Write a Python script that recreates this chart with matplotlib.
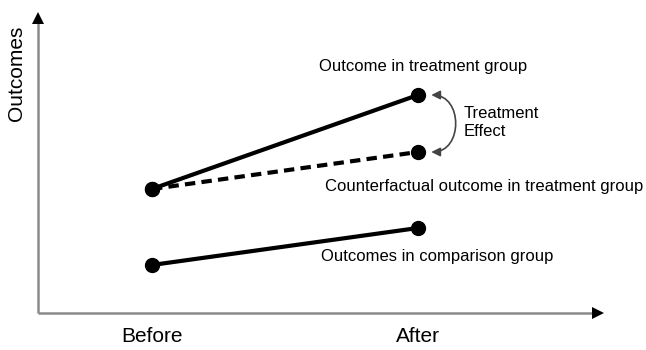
import matplotlib

matplotlib.use("Agg")

import matplotlib.pyplot as plt
from matplotlib.patches import FancyArrowPatch
from matplotlib.path import Path

# period positions and labels
periods = ["Before", "After"]
period_x = [0, 1]

# outcome values (arbitrary units)
treatment = [6.2, 10.9]
counterfactual = [6.2, 8.05]
comparison = [2.4, 4.25]

plt.rcParams["font.family"] = ["Liberation Sans", "DejaVu Sans"]

fig = plt.figure(figsize=(6.46, 3.5), dpi=100)
ax = fig.add_axes([0, 0, 1, 1])
ax.set_xlim(-0.571, 1.857)
ax.set_ylim(-1.85, 15.65)
ax.axis("off")

# axes: gray shafts with black arrowheads
x0, y0 = -0.4286, 0.0
ax.plot([x0, 1.66], [y0, y0], color="#8a8a8a", lw=1.8, solid_capstyle="butt")
ax.plot([x0, x0], [y0, 14.6], color="#8a8a8a", lw=1.8, solid_capstyle="butt")
ax.plot([1.675], [y0], marker=">", color="black", markersize=8, markeredgewidth=0)
ax.plot([x0], [14.75], marker="^", color="black", markersize=8, markeredgewidth=0)

ax.plot(period_x, treatment, color="black", lw=3, marker="o", markersize=10, zorder=3)
ax.plot(period_x, counterfactual, color="black", lw=3, ls=(0, (2.5, 1.5)),
        marker="o", markersize=10, zorder=3)
ax.plot(period_x, comparison, color="black", lw=3, marker="o", markersize=10, zorder=3)

# treatment effect double arrow (curved)
ex, bulge = 1.05, 1.17
effect_path = Path([(ex, counterfactual[1]), (bulge, counterfactual[1]),
                    (bulge, treatment[1]), (ex, treatment[1])],
                   [Path.MOVETO, Path.CURVE4, Path.CURVE4, Path.CURVE4])
ax.add_patch(FancyArrowPatch(path=effect_path, arrowstyle="<|-|>", color="#444444",
                             lw=1.2, mutation_scale=13))

ax.text(1.02, 12.35, "Outcome in treatment group", ha="center", va="center", fontsize=12)
ax.text(1.17, 9.5, "Treatment\nEffect", ha="left", va="center", fontsize=12,
        linespacing=1.25)
ax.text(0.65, 6.35, "Counterfactual outcome in treatment group", ha="left",
        va="center", fontsize=12)
ax.text(0.635, 2.8, "Outcomes in comparison group", ha="left", va="center", fontsize=12)

for x, lab in zip(period_x, periods):
    ax.text(x, -1.2, lab, ha="center", va="center", fontsize=15)
ax.text(-0.508, 12.0, "Outcomes", rotation=90, ha="center", va="center", fontsize=15)

fig.savefig("out.png", dpi=100)
